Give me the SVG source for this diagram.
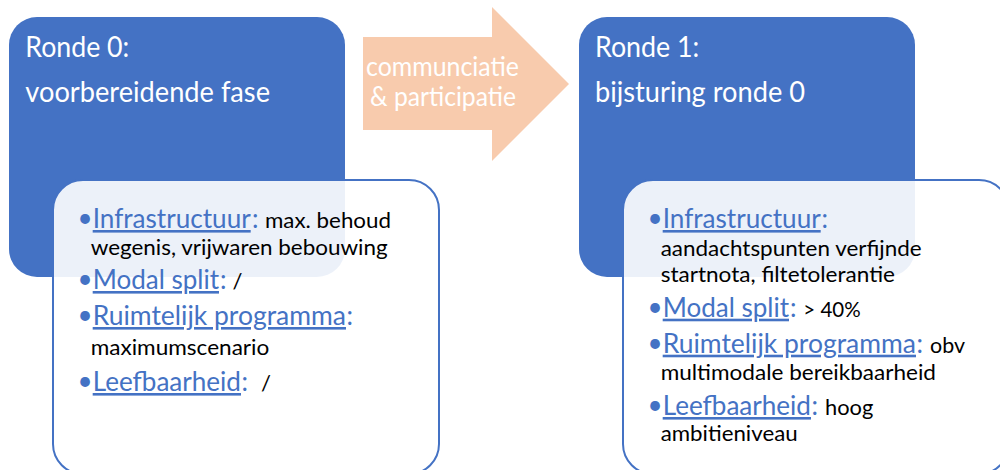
<svg xmlns="http://www.w3.org/2000/svg" width="1000" height="470" viewBox="0 0 1000 470">
  <style>
    text { font-family: Lato, "Open Sans", "Liberation Sans", sans-serif; }
    .panel { fill: #4472C4; }
    .card { fill: #FFFFFF; fill-opacity: 0.9; stroke: #4472C4; stroke-width: 2; }
    .flow { fill: #F8CBAD; }
    .head { fill: #FFFFFF; font-size: 28px; }
    .flowtxt { fill: #FFFFFF; font-size: 26px; }
    .key { fill: #4472C4; font-size: 26px; }
    .link { text-decoration: underline; }
    .val { fill: #000000; font-size: 22px; }
    .dot { fill: #4472C4; font-size: 26px; }
  </style>

  <!-- Round 0 -->
  <g id="ronde0">
    <rect class="panel" x="9" y="17" width="336" height="260" rx="28" ry="28"/>
    <text class="head" x="25.3" y="56.5" textLength="104" lengthAdjust="spacingAndGlyphs">Ronde 0:</text>
    <text class="head" x="25.3" y="101.5" textLength="244.7" lengthAdjust="spacingAndGlyphs">voorbereidende fase</text>
  </g>

  <g id="ronde0-details">
    <rect class="card" x="53" y="180" width="386" height="294" rx="30" ry="30"/>
    <text class="dot" x="77.5" y="227">•</text>
    <text class="key link" x="92.7" y="228" textLength="158" lengthAdjust="spacingAndGlyphs">Infrastructuur</text>
    <text class="key" x="252" y="228">:</text>
    <text class="val" x="265" y="227.5" textLength="126" lengthAdjust="spacingAndGlyphs">max. behoud</text>
    <text class="val" x="90.7" y="254.5" textLength="297" lengthAdjust="spacingAndGlyphs">wegenis, vrijwaren bebouwing</text>

    <text class="dot" x="77.5" y="288">•</text>
    <text class="key link" x="92.7" y="289" textLength="126.3" lengthAdjust="spacingAndGlyphs">Modal split</text>
    <text class="key" x="220" y="289">:</text>
    <text class="val" x="232.5" y="289">/</text>

    <text class="dot" x="77.5" y="324">•</text>
    <text class="key link" x="92.7" y="325" textLength="253.3" lengthAdjust="spacingAndGlyphs">Ruimtelijk programma</text>
    <text class="key" x="346.5" y="325">:</text>
    <text class="val" x="90.7" y="355" textLength="178.6" lengthAdjust="spacingAndGlyphs">maximumscenario</text>

    <text class="dot" x="77.5" y="390">•</text>
    <text class="key link" x="92.7" y="391" textLength="148.3" lengthAdjust="spacingAndGlyphs">Leefbaarheid</text>
    <text class="key" x="241.5" y="391">:</text>
    <text class="val" x="261" y="391">/</text>
  </g>

  <!-- Transition between rounds -->
  <g id="communicatie">
    <polygon class="flow" points="363,37 492,37 492,7 569,84 492,161 492,130 363,130"/>
    <text class="flowtxt" x="366" y="76" textLength="153" lengthAdjust="spacingAndGlyphs">communciatie</text>
    <text class="flowtxt" x="370" y="105.5" textLength="146" lengthAdjust="spacingAndGlyphs">&amp; participatie</text>
  </g>

  <!-- Round 1 -->
  <g id="ronde1">
    <rect class="panel" x="579" y="17" width="336" height="260" rx="28" ry="28"/>
    <text class="head" x="595" y="56.5" textLength="104.3" lengthAdjust="spacingAndGlyphs">Ronde 1:</text>
    <text class="head" x="595" y="101.5" textLength="210" lengthAdjust="spacingAndGlyphs">bijsturing ronde 0</text>
  </g>

  <g id="ronde1-details">
    <rect class="card" x="623" y="180" width="386" height="294" rx="30" ry="30"/>
    <text class="dot" x="647.5" y="227">•</text>
    <text class="key link" x="662.7" y="228" textLength="158" lengthAdjust="spacingAndGlyphs">Infrastructuur</text>
    <text class="key" x="821.5" y="228">:</text>
    <text class="val" x="660.7" y="255.5" textLength="261" lengthAdjust="spacingAndGlyphs">aandachtspunten verfijnde</text>
    <text class="val" x="660.7" y="281.7" textLength="234.3" lengthAdjust="spacingAndGlyphs">startnota, filtetolerantie</text>

    <text class="dot" x="647.5" y="315.7">•</text>
    <text class="key link" x="662.7" y="316.7" textLength="126.3" lengthAdjust="spacingAndGlyphs">Modal split</text>
    <text class="key" x="790" y="316.7">:</text>
    <text class="val" x="803.3" y="316.7" textLength="57.4" lengthAdjust="spacingAndGlyphs">&gt; 40%</text>

    <text class="dot" x="647.5" y="351.7">•</text>
    <text class="key link" x="662.7" y="352.7" textLength="253.3" lengthAdjust="spacingAndGlyphs">Ruimtelijk programma</text>
    <text class="key" x="916.5" y="352.7">:</text>
    <text class="val" x="930" y="352.7" textLength="35" lengthAdjust="spacingAndGlyphs">obv</text>
    <text class="val" x="660.7" y="379.5" textLength="275.3" lengthAdjust="spacingAndGlyphs">multimodale bereikbaarheid</text>

    <text class="dot" x="647.5" y="414">•</text>
    <text class="key link" x="662.7" y="415" textLength="148.3" lengthAdjust="spacingAndGlyphs">Leefbaarheid</text>
    <text class="key" x="811.5" y="415">:</text>
    <text class="val" x="825" y="415" textLength="48.3" lengthAdjust="spacingAndGlyphs">hoog</text>
    <text class="val" x="660.7" y="440.5" textLength="137" lengthAdjust="spacingAndGlyphs">ambitieniveau</text>
  </g>
</svg>
